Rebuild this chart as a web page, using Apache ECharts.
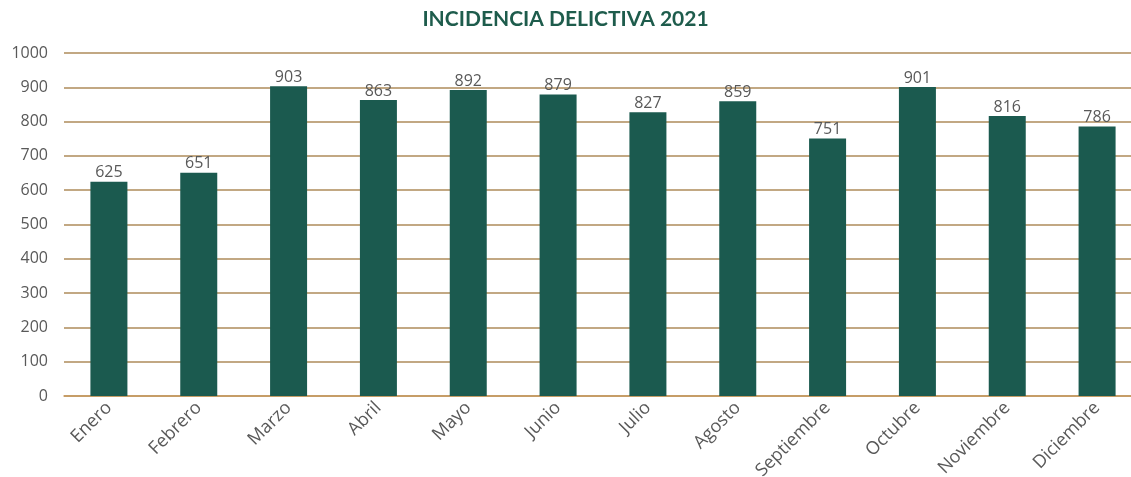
<!DOCTYPE html>
<html>
<head>
<meta charset="utf-8">
<script src="https://cdn.jsdelivr.net/npm/echarts@6/dist/echarts.min.js"></script>
<style>
  html, body { margin: 0; padding: 0; background: #fff; }
  #main { width: 1131px; height: 477px; }
</style>
</head>
<body>
<div id="main"></div>
<script>
// datos
const meses = ['Enero', 'Febrero', 'Marzo', 'Abril', 'Mayo', 'Junio', 'Julio',
  'Agosto', 'Septiembre', 'Octubre', 'Noviembre', 'Diciembre'];
const incidencia = [625, 651, 903, 863, 892, 879, 827, 859, 751, 901, 816, 786];
const yTicks = [0, 100, 200, 300, 400, 500, 600, 700, 800, 900, 1000];

const chart = echarts.init(document.getElementById('main'));
chart.setOption({
  animation: false,
  title: {
    text: 'INCIDENCIA DELICTIVA 2021',
    left: 'center',
    top: 4,
    textStyle: {
      color: '#1e5c4c',
      fontFamily: 'Lato',
      fontWeight: 'bold',
      fontSize: 21
    }
  },
  grid: {
    left: 64,
    width: 1078,
    top: 53,
    bottom: 81,
    outerBoundsMode: 'none'
  },
  xAxis: {
    type: 'category',
    data: meses,
    axisLine: { lineStyle: { color: '#c8995f', width: 1.5 } },
    axisTick: { show: false },
    axisLabel: {
      rotate: 45,
      color: '#595959',
      fontFamily: 'Open Sans',
      fontSize: 18,
      margin: 9
    }
  },
  yAxis: {
    type: 'value',
    min: yTicks[0],
    max: yTicks[yTicks.length - 1],
    interval: 100,
    axisLine: { show: false },
    axisTick: { show: false },
    splitLine: { lineStyle: { color: '#ae8b5a', width: 1.5 } },
    axisLabel: {
      color: '#595959',
      fontFamily: 'Open Sans',
      fontSize: 16,
      margin: 16,
      formatter: v => String(v)
    }
  },
  series: [{
    type: 'bar',
    data: incidencia,
    barWidth: 37,
    itemStyle: { color: '#1b5a4f' },
    label: {
      show: true,
      position: 'top',
      distance: 1,
      color: '#595959',
      fontFamily: 'Open Sans',
      fontSize: 16
    }
  }]
});
</script>
</body>
</html>
